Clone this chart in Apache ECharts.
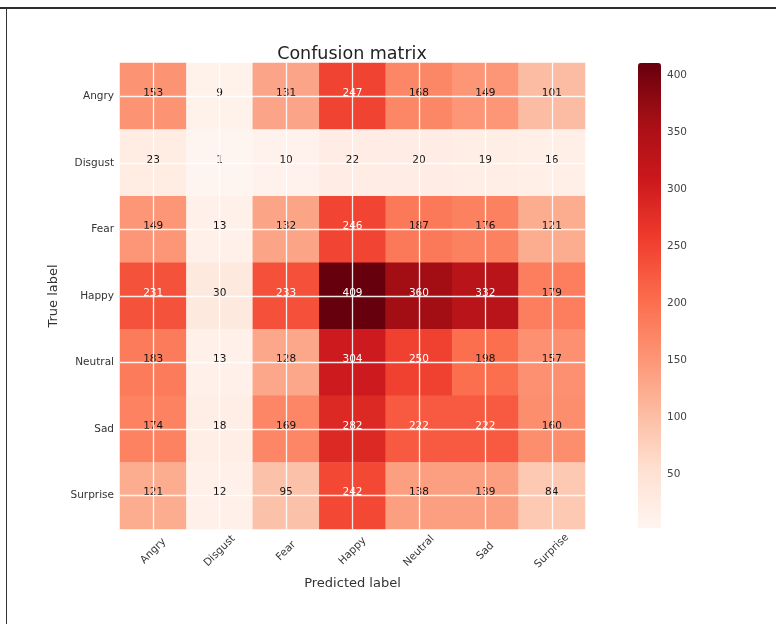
<!DOCTYPE html>
<html>
<head>
<meta charset="utf-8">
<script src="https://cdn.jsdelivr.net/npm/echarts@6/dist/echarts.min.js"></script>
<style>
  html, body { margin: 0; padding: 0; background: #fff; }
  #chart { width: 776px; height: 624px; }
</style>
</head>
<body>
<div id="chart"></div>
<script>
// Class names, in the order used for both axes
const predictedLabels = ['Angry', 'Disgust', 'Fear', 'Happy', 'Neutral', 'Sad', 'Surprise'];
const trueLabels = ['Angry', 'Disgust', 'Fear', 'Happy', 'Neutral', 'Sad', 'Surprise'];

// One row of counts per true label (columns follow predictedLabels)
const rowAngry    = [153,  9, 131, 247, 168, 149, 101];
const rowDisgust  = [ 23,  1,  10,  22,  20,  19,  16];
const rowFear     = [149, 13, 132, 246, 187, 176, 121];
const rowHappy    = [231, 30, 233, 409, 360, 332, 179];
const rowNeutral  = [183, 13, 128, 304, 250, 198, 157];
const rowSad      = [174, 18, 169, 282, 222, 222, 160];
const rowSurprise = [121, 12,  95, 242, 138, 139,  84];

// Colour bar tick labels
const colorbarTicks = [50, 100, 150, 200, 250, 300, 350, 400];

const rows = [rowAngry, rowDisgust, rowFear, rowHappy, rowNeutral, rowSad, rowSurprise];
const allValues = rows.flat();
const vMin = Math.min(...allValues);
const vMax = Math.max(...allValues);
const threshold = vMax / 2;

// Sequential "Reds" palette
const reds = ['#fff5f0', '#fee0d2', '#fcbba1', '#fc9272', '#fb6a4a',
              '#ef3b2c', '#cb181d', '#a50f15', '#67000d'];

const FONT = 'DejaVu Sans';

const cells = [];
rows.forEach((row, yi) => {
  row.forEach((v, xi) => {
    cells.push({
      value: [xi, yi, v],
      label: { color: v > threshold ? '#ffffff' : '#111111' }
    });
  });
});

const centerLines = [
  ...predictedLabels.map(c => ({ xAxis: c })),
  ...trueLabels.map(c => ({ yAxis: c }))
];

const chart = echarts.init(document.getElementById('chart'), null, { renderer: 'canvas' });

chart.setOption({
  animation: false,
  backgroundColor: '#ffffff',
  textStyle: { fontFamily: FONT },
  title: {
    text: 'Confusion matrix',
    left: 347,
    top: 40,
    textAlign: 'center',
    textStyle: { fontFamily: FONT, fontSize: 17.5, fontWeight: 'normal', color: '#222' }
  },
  grid: [
    { left: 120, top: 63, width: 465, height: 466 },
    { left: 638, top: 65, width: 23, height: 465 }
  ],
  xAxis: [
    {
      type: 'category',
      gridIndex: 0,
      data: predictedLabels,
      name: 'Predicted label',
      nameLocation: 'middle',
      nameGap: 48,
      nameTextStyle: { fontFamily: FONT, fontSize: 13, color: '#333' },
      axisLine: { show: false },
      axisTick: { show: false },
      splitLine: { show: false },
      axisLabel: {
        rotate: 45,
        align: 'center',
        verticalAlign: 'middle',
        margin: 22,
        fontFamily: FONT,
        fontSize: 10.5,
        color: '#333',
        interval: 0
      }
    },
    { type: 'value', gridIndex: 1, show: false, min: 0, max: 1 }
  ],
  yAxis: [
    {
      type: 'category',
      gridIndex: 0,
      data: trueLabels,
      inverse: true,
      name: 'True label',
      nameLocation: 'middle',
      nameGap: 48,
      nameRotate: 90,
      nameTextStyle: { fontFamily: FONT, fontSize: 13, color: '#333' },
      axisLine: { show: false },
      axisTick: { show: false },
      splitLine: { show: false },
      axisLabel: {
        margin: 6,
        fontFamily: FONT,
        fontSize: 10.5,
        color: '#333',
        interval: 0,
        padding: [2, 0, 0, 0]
      }
    },
    {
      type: 'value',
      gridIndex: 1,
      position: 'right',
      min: vMin,
      max: vMax,
      axisLine: { show: false },
      axisTick: { show: false },
      splitLine: { show: false },
      axisLabel: {
        customValues: colorbarTicks,
        margin: 6,
        fontFamily: FONT,
        fontSize: 10.5,
        color: '#444'
      }
    }
  ],
  visualMap: {
    type: 'continuous',
    seriesIndex: 0,
    min: vMin,
    max: vMax,
    calculable: false,
    hoverLink: false,
    left: 638,
    top: 63,
    itemWidth: 23,
    itemHeight: 465,
    padding: 0,
    text: null,
    inRange: { color: reds }
  },
  series: [
    {
      type: 'heatmap',
      xAxisIndex: 0,
      yAxisIndex: 0,
      data: cells,
      itemStyle: { borderWidth: 0 },
      label: {
        show: true,
        fontFamily: FONT,
        fontSize: 10.5,
        offset: [0, -3],
        formatter: p => p.value[2]
      },
      emphasis: { disabled: true },
      markLine: {
        silent: true,
        symbol: ['none', 'none'],
        label: { show: false },
        lineStyle: { color: '#ffffff', width: 1.3, type: 'solid', opacity: 0.9 },
        data: centerLines,
        z: 3
      }
    }
  ],
  graphic: [
    { type: 'rect', shape: { x: 0, y: 7, width: 776, height: 2 }, style: { fill: '#2e2e2e' }, silent: true },
    { type: 'rect', shape: { x: 6, y: 8, width: 1, height: 616 }, style: { fill: '#333' }, silent: true }
  ]
});
</script>
</body>
</html>
